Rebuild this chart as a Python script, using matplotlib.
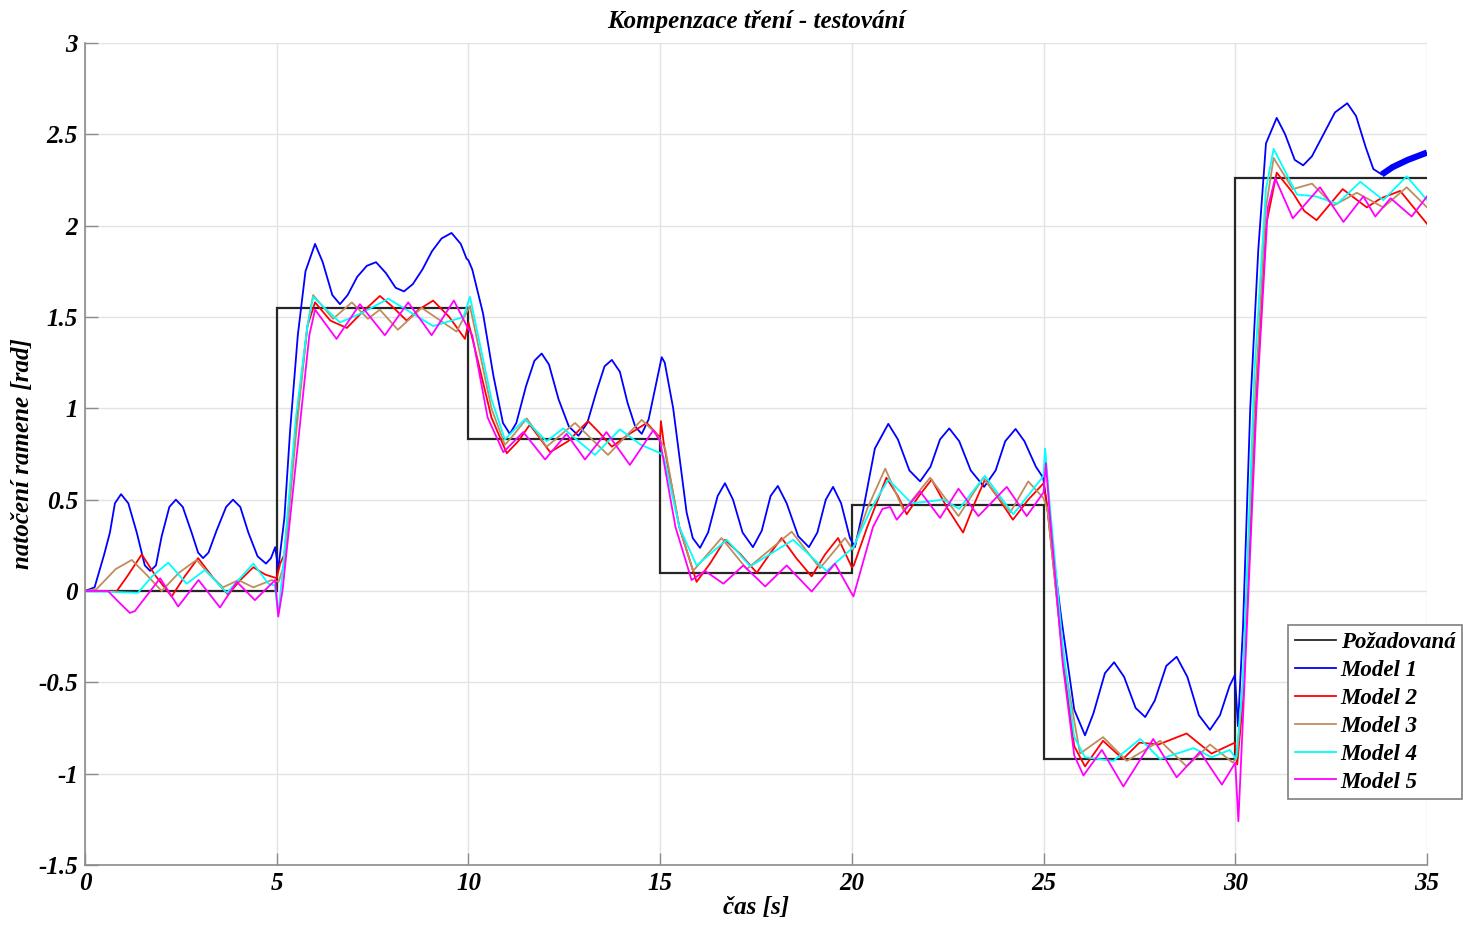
import matplotlib
matplotlib.use("Agg")
import matplotlib.pyplot as plt

# Reference (step) signal
ref_edges = [0, 5, 10, 15, 20, 25, 30, 35]
ref_levels = [0.0, 1.55, 0.83, 0.10, 0.47, -0.92, 2.26]

# Model 1
m1_t = [0, 0.25, 0.5, 0.65, 0.78, 0.94, 1.13, 1.35, 1.56, 1.7, 1.85, 2.0, 2.2, 2.37, 2.55, 2.78,
        2.95, 3.08, 3.22, 3.43, 3.68, 3.86, 4.05, 4.26, 4.5, 4.72, 4.85, 4.96, 5.04, 5.2, 5.35,
        5.55, 5.75, 6.0, 6.2, 6.45, 6.65, 6.85, 7.1, 7.35, 7.59, 7.85, 8.1, 8.32, 8.55, 8.8,
        9.05, 9.3, 9.56, 9.8, 9.95, 10.0, 10.1, 10.38, 10.65, 10.9, 11.08, 11.25, 11.5, 11.72,
        11.91, 12.1, 12.35, 12.62, 12.87, 13.1, 13.35, 13.55, 13.74, 13.95, 14.15, 14.35, 14.52,
        14.7, 14.88, 15.04, 15.12, 15.34, 15.69, 15.85, 16.04, 16.25, 16.5, 16.69, 16.9, 17.15,
        17.42, 17.65, 17.88, 18.07, 18.3, 18.6, 18.88, 19.1, 19.32, 19.51, 19.72, 19.95, 20.08,
        20.3, 20.6, 20.95, 21.2, 21.5, 21.78, 22.05, 22.3, 22.54, 22.8, 23.1, 23.45, 23.75, 24.0,
        24.27, 24.5, 24.8, 24.99, 25.1, 25.47, 25.8, 26.08, 26.3, 26.6, 26.84, 27.1, 27.4, 27.65,
        27.9, 28.2, 28.47, 28.75, 29.05, 29.34, 29.6, 29.85, 29.99, 30.07, 30.2, 30.39, 30.6,
        30.8, 31.08, 31.3, 31.55, 31.77, 32.0, 32.3, 32.6, 32.92, 33.15, 33.4, 33.6, 33.82]
m1_y = [0, 0.02, 0.2, 0.32, 0.48, 0.53, 0.48, 0.32, 0.14, 0.11, 0.14, 0.30, 0.46, 0.50, 0.46, 0.32,
        0.21, 0.18, 0.21, 0.33, 0.46, 0.50, 0.46, 0.32, 0.19, 0.15, 0.18, 0.24, 0.12, 0.40, 0.88,
        1.40, 1.75, 1.90, 1.80, 1.62, 1.57, 1.62, 1.72, 1.78, 1.80, 1.74, 1.66, 1.64, 1.68, 1.76,
        1.86, 1.93, 1.96, 1.90, 1.82, 1.81, 1.76, 1.52, 1.18, 0.92, 0.86, 0.92, 1.12, 1.26,
        1.30, 1.24, 1.05, 0.90, 0.85, 0.92, 1.10, 1.23, 1.265, 1.20, 1.03, 0.90, 0.86,
        0.94, 1.12, 1.28, 1.25, 1.00, 0.43, 0.29, 0.236, 0.32, 0.52, 0.59, 0.50, 0.32,
        0.24, 0.33, 0.52, 0.575, 0.48, 0.30, 0.24, 0.32, 0.50, 0.57, 0.48, 0.29, 0.24,
        0.45, 0.78, 0.915, 0.83, 0.66, 0.60, 0.68, 0.83, 0.89, 0.82, 0.66, 0.57, 0.66, 0.82,
        0.887, 0.82, 0.68, 0.62, 0.45, -0.16, -0.65, -0.79, -0.67, -0.45, -0.39, -0.47, -0.64, -0.69,
        -0.60, -0.41, -0.36, -0.47, -0.68, -0.76, -0.68, -0.52, -0.46, -0.74, -0.20, 1.00, 1.87,
        2.45, 2.59, 2.50, 2.36, 2.33, 2.38, 2.50, 2.62, 2.67, 2.60, 2.43, 2.31, 2.28]
# Model 1, final noisy stretch
m1_tail_t = [33.82, 34.1, 34.5, 35.0]
m1_tail_y = [2.28, 2.32, 2.36, 2.40]

# Model 2
m2_t = [0, 0.83, 1.1, 1.48, 1.85, 2.26, 2.6, 2.95, 3.35, 3.73, 4.05, 4.39, 4.7, 5.0, 5.09, 5.2,
        5.5, 5.8, 6.0, 6.4, 6.83, 7.2, 7.69, 8.0, 8.39, 8.7, 9.08, 9.5, 9.91, 10.0, 10.2, 10.6,
        11.0, 11.3, 11.6, 11.85, 12.13, 12.6, 13.12, 13.4, 13.74, 14.2, 14.65, 15.0, 15.02, 15.1,
        15.5, 15.95, 16.3, 16.69, 17.1, 17.52, 17.85, 18.17, 18.55, 18.95, 19.3, 19.64, 20.0,
        20.05, 20.4, 20.9, 21.2, 21.43, 21.75, 22.08, 22.5, 22.9, 23.2, 23.47, 23.85, 24.2, 24.6,
        25.0, 25.1, 25.5, 25.8, 26.08, 26.55, 27.07, 27.5, 28.0, 28.73, 29.38, 29.99, 30.05, 30.2,
        30.5, 30.8, 31.08, 31.5, 31.8, 32.12, 32.8, 33.43, 33.8, 34.3, 35.0]
m2_y = [0, 0, 0.08, 0.20, 0.08, -0.03, 0.08, 0.18, 0.07, -0.02, 0.06, 0.13, 0.09, 0.07, 0.15, 0.20,
        0.90, 1.45, 1.58, 1.48, 1.44, 1.52, 1.615, 1.56, 1.48, 1.54, 1.59, 1.50, 1.38, 1.47, 1.30, 0.95,
        0.754, 0.82, 0.91, 0.84, 0.76, 0.82, 0.93, 0.87, 0.79, 0.86, 0.92, 0.84, 0.93, 0.80,
        0.35, 0.05, 0.15, 0.28, 0.20, 0.10, 0.20, 0.29, 0.18, 0.08, 0.20, 0.29, 0.13,
        0.14, 0.35, 0.62, 0.52, 0.42, 0.52, 0.61, 0.45, 0.32, 0.48, 0.61, 0.50, 0.39, 0.50,
        0.59, 0.45, -0.35, -0.85, -0.96, -0.82, -0.92, -0.83, -0.84, -0.78, -0.89, -0.83, -0.95, -0.60,
        0.90, 2.00, 2.29, 2.18, 2.08, 2.03, 2.20, 2.10, 2.15, 2.19, 2.01]

# Model 3
m3_t = [0, 0.3, 0.8, 1.22, 1.6, 2.0, 2.45, 2.91, 3.25, 3.6, 4.0, 4.39, 4.87, 5.05, 5.2, 5.5, 5.8,
        5.95, 6.47, 6.96, 7.38, 7.69, 8.16, 8.78, 9.69, 10.04, 10.2, 10.6, 10.95, 11.2, 11.52,
        12.04, 12.78, 13.64, 14.52, 14.9, 15.13, 15.5, 15.86, 16.6, 17.26, 18.43, 19.17, 19.82,
        20.03, 20.4, 20.87, 21.35, 22.04, 22.78, 23.43, 24.13, 24.6, 24.99, 25.1, 25.5, 25.95,
        26.55, 27.17, 28.04, 28.73, 29.34, 29.94, 30.05, 30.2, 30.5, 30.8, 31.0, 31.5, 32.0,
        32.56, 33.17, 33.86, 34.47, 35.0]
m3_y = [0, 0.01, 0.12, 0.17, 0.09, 0.0, 0.10, 0.17, 0.09, 0.02, 0.06, 0.02, 0.06, 0.05, 0.15, 0.85, 1.45,
        1.62, 1.49, 1.58, 1.49, 1.54, 1.43, 1.55, 1.42, 1.56, 1.40, 1.00, 0.80, 0.86, 0.945,
        0.79, 0.92, 0.745, 0.937, 0.86, 0.78, 0.35, 0.11, 0.29, 0.12, 0.325, 0.125, 0.29,
        0.225, 0.45, 0.67, 0.44, 0.62, 0.41, 0.62, 0.43, 0.60, 0.51, 0.45, -0.35, -0.89,
        -0.80, -0.93, -0.82, -0.96, -0.84, -0.94, -0.90, -0.50, 1.00, 2.10, 2.37, 2.20, 2.23,
        2.11, 2.18, 2.10, 2.21, 2.10]

# Model 4
m4_t = [0, 1.38, 1.75, 2.17, 2.65, 3.13, 3.7, 4.39, 4.78, 4.95, 5.04, 5.15, 5.5, 5.8, 5.95, 6.65,
        7.2, 7.91, 9.08, 9.87, 10.04, 10.15, 10.6, 10.95, 11.47, 12.04, 12.47, 13.3, 13.95, 14.5,
        15.0, 15.1, 15.5, 15.95, 16.74, 17.35, 18.47, 19.34, 20.04, 20.5, 20.95, 21.56, 22.39,
        22.8, 23.47, 24.21, 25.0, 25.04, 25.15, 25.5, 25.8, 26.08, 26.82, 27.52, 28.04, 28.91,
        29.38, 29.86, 30.02, 30.2, 30.5, 30.8, 31.0, 31.61, 32.1, 32.66, 33.26, 33.86, 34.47, 35.0]
m4_y = [0, -0.01, 0.08, 0.155, 0.04, 0.115, -0.01, 0.15, 0.04, 0.03, -0.13, 0.10, 0.95, 1.45, 1.61, 1.47,
        1.52, 1.60, 1.45, 1.50, 1.61, 1.50, 1.05, 0.83, 0.94, 0.82, 0.89, 0.745, 0.885, 0.80,
        0.755, 0.73, 0.35, 0.14, 0.28, 0.135, 0.28, 0.11, 0.24, 0.45, 0.61, 0.48, 0.50,
        0.45, 0.63, 0.42, 0.63, 0.78, 0.50, -0.30, -0.80, -0.91, -0.93, -0.81, -0.92, -0.86,
        -0.91, -0.87, -0.92, -0.50, 1.20, 2.20, 2.42, 2.17, 2.16, 2.12, 2.24, 2.14, 2.27, 2.14]

# Model 5
m5_t = [0, 0.6, 0.83, 1.17, 1.3, 1.96, 2.43, 2.96, 3.52, 3.96, 4.43, 4.96, 5.04, 5.15, 5.6, 5.85,
        6.0, 6.56, 7.17, 7.82, 8.43, 9.04, 9.62, 9.96, 10.1, 10.5, 10.91, 11.43, 12.0, 12.56,
        13.04, 13.6, 14.21, 14.82, 15.0, 15.4, 15.82, 16.17, 16.65, 17.17, 17.74, 18.3, 18.95,
        19.56, 20.04, 20.55, 20.8, 21.0, 21.17, 21.78, 22.3, 22.78, 23.3, 24.04, 24.56, 25.0, 25.06,
        25.15, 25.5, 25.8, 26.04, 26.52, 27.08, 27.86, 28.47, 29.08, 29.65, 30.0, 30.08, 30.2,
        30.55, 30.85, 31.04, 31.5, 32.21, 32.82, 33.34, 33.65, 34.05, 34.6, 35.0]
m5_y = [0, 0, -0.05, -0.12, -0.11, 0.07, -0.085, 0.06, -0.09, 0.05, -0.05, 0.06, -0.14, 0.0, 0.90, 1.40,
        1.54, 1.38, 1.57, 1.40, 1.58, 1.40, 1.59, 1.45, 1.40, 0.95, 0.76, 0.87, 0.72, 0.86,
        0.72, 0.87, 0.69, 0.88, 0.82, 0.35, 0.06, 0.11, 0.04, 0.14, 0.025, 0.14, -0.003,
        0.15, -0.03, 0.35, 0.45, 0.46, 0.39, 0.545, 0.40, 0.56, 0.41, 0.57, 0.41, 0.54, 0.70,
        0.45, -0.40, -0.90, -1.01, -0.87, -1.07, -0.81, -1.02, -0.88, -1.06, -0.94, -1.26, -0.70,
        1.00, 2.10, 2.26, 2.04, 2.21, 2.02, 2.16, 2.05, 2.15, 2.05, 2.16]

labels = ["Požadovaná", "Model 1", "Model 2", "Model 3", "Model 4", "Model 5"]
colors = ["#262626", "#0000ff", "#ff0000", "#bf8c5f", "#00ffff", "#ff00ff"]

font = {"family": "Liberation Serif", "weight": "bold", "style": "italic"}
fs = 18

fig = plt.figure(figsize=(14.63, 9.38), dpi=100)
ax = fig.add_axes([0.0581, 0.0778, 0.9173, 0.8764])

lw = 1.3
h_ref = ax.stairs(ref_levels, ref_edges, color=colors[0], lw=1.6, baseline=None)
h1, = ax.plot(m1_t, m1_y, color=colors[1], lw=lw, solid_joinstyle="round")
ax.plot(m1_tail_t, m1_tail_y, color=colors[1], lw=4.5, solid_capstyle="butt")
h2, = ax.plot(m2_t, m2_y, color=colors[2], lw=lw, solid_joinstyle="round")
h3, = ax.plot(m3_t, m3_y, color=colors[3], lw=lw, solid_joinstyle="round")
h4, = ax.plot(m4_t, m4_y, color=colors[4], lw=lw, solid_joinstyle="round")
h5, = ax.plot(m5_t, m5_y, color=colors[5], lw=lw, solid_joinstyle="round")

ax.set_xlim(0, 35)
ax.set_ylim(-1.5, 3)
ax.set_xticks([0, 5, 10, 15, 20, 25, 30, 35])
ax.set_yticks([-1.5, -1, -0.5, 0, 0.5, 1, 1.5, 2, 2.5, 3])
ax.set_xticklabels(["0", "5", "10", "15", "20", "25", "30", "35"])
ax.set_yticklabels(["-1.5", "-1", "-0.5", "0", "0.5", "1", "1.5", "2", "2.5", "3"])
for lab in ax.get_xticklabels() + ax.get_yticklabels():
    lab.set_fontfamily("Liberation Serif")
    lab.set_fontweight("bold")
    lab.set_fontstyle("italic")
    lab.set_fontsize(fs)

ax.grid(True, color="#e3e3e3", lw=1.0)
ax.set_axisbelow(True)
for side in ("top", "right"):
    ax.spines[side].set_visible(False)
for side in ("left", "bottom"):
    ax.spines[side].set_color("#8c8c8c")
    ax.spines[side].set_linewidth(1.2)
ax.tick_params(direction="in", length=9, width=1.0, color="#8c8c8c", pad=5)

ax.set_title("Kompenzace tření - testování", fontsize=fs, pad=11, **font)
ax.set_xlabel("čas [s]", fontsize=fs, labelpad=1, **font)
ax.set_ylabel("natočení ramene [rad]", fontsize=fs, labelpad=3, **font)

leg = fig.legend([h_ref, h1, h2, h3, h4, h5], labels,
                 loc="upper left", bbox_to_anchor=(1288 / 1463, 1 - 625 / 938),
                 prop={"family": "Liberation Serif", "weight": "bold", "style": "italic", "size": 16.5},
                 handlelength=1.8, handletextpad=0.2, labelspacing=0.3,
                 borderpad=0.3, borderaxespad=0, fancybox=False, framealpha=1)
leg.get_frame().set_edgecolor("#7f7f7f")
leg.get_frame().set_linewidth(1.2)
for line in leg.get_lines():
    line.set_linewidth(1.3)

fig.savefig("out.png", dpi=100)
